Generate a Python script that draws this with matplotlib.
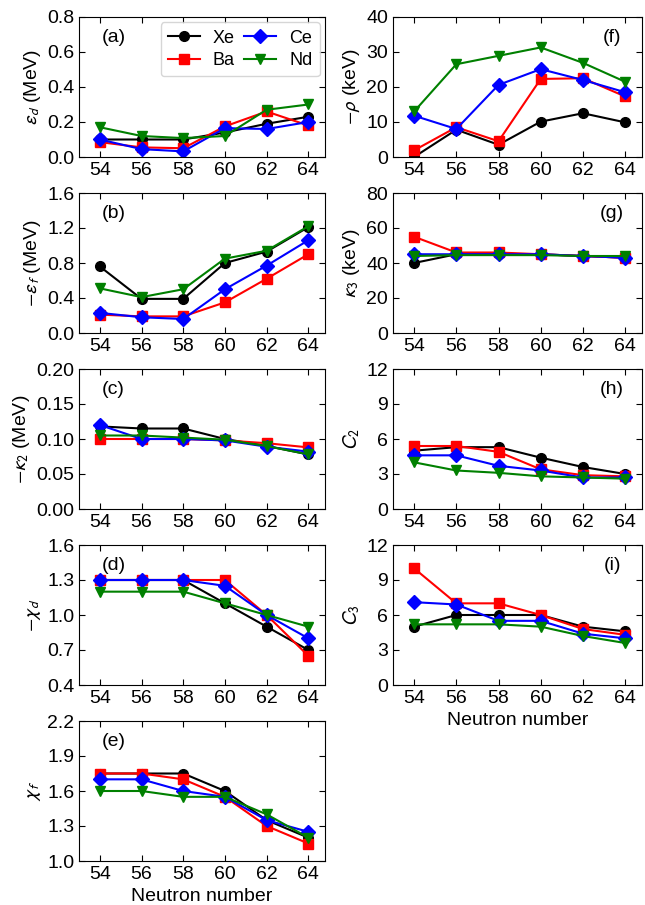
import matplotlib
matplotlib.use("Agg")
import matplotlib.pyplot as plt

plt.rcParams['font.family'] = ['Liberation Sans', 'DejaVu Sans']
plt.rcParams['mathtext.fontset'] = 'stixsans'
plt.rcParams['font.size'] = 14

# neutron numbers
N = [54, 56, 58, 60, 62, 64]
nuclei = ['Xe', 'Ba', 'Ce', 'Nd']

# (a) eps_d (MeV)
eps_d = {'Xe': [0.10, 0.10, 0.10, 0.14, 0.19, 0.23],
         'Ba': [0.085, 0.055, 0.05, 0.175, 0.26, 0.18],
         'Ce': [0.10, 0.045, 0.032, 0.165, 0.16, 0.20],
         'Nd': [0.17, 0.12, 0.108, 0.12, 0.27, 0.30]}
# (b) -eps_f (MeV)
eps_f = {'Xe': [0.76, 0.39, 0.39, 0.80, 0.93, 1.21],
         'Ba': [0.21, 0.19, 0.19, 0.35, 0.62, 0.90],
         'Ce': [0.23, 0.18, 0.16, 0.50, 0.77, 1.06],
         'Nd': [0.51, 0.41, 0.50, 0.85, 0.94, 1.22]}
# (c) -kappa_2 (MeV)
kappa2 = {'Xe': [0.118, 0.115, 0.115, 0.100, 0.090, 0.078],
          'Ba': [0.100, 0.100, 0.100, 0.098, 0.094, 0.088],
          'Ce': [0.120, 0.100, 0.100, 0.098, 0.089, 0.082],
          'Nd': [0.105, 0.105, 0.102, 0.099, 0.090, 0.078]}
# (d) -chi_d
chi_d = {'Xe': [1.3, 1.3, 1.3, 1.1, 0.9, 0.7],
         'Ba': [1.3, 1.3, 1.3, 1.3, 1.0, 0.65],
         'Ce': [1.3, 1.3, 1.3, 1.25, 1.0, 0.8],
         'Nd': [1.2, 1.2, 1.2, 1.1, 1.0, 0.9]}
# (e) chi_f
chi_f = {'Xe': [1.75, 1.75, 1.75, 1.60, 1.35, 1.20],
         'Ba': [1.75, 1.75, 1.70, 1.55, 1.30, 1.15],
         'Ce': [1.70, 1.70, 1.60, 1.55, 1.35, 1.25],
         'Nd': [1.60, 1.60, 1.55, 1.55, 1.40, 1.20]}
# (f) -rho (keV)
rho = {'Xe': [0.0, 7.8, 3.5, 10.1, 12.5, 9.9],
       'Ba': [1.9, 8.5, 4.5, 22.3, 22.5, 17.3],
       'Ce': [11.8, 8.0, 20.6, 25.1, 22.0, 18.5],
       'Nd': [13.0, 26.5, 28.9, 31.3, 26.9, 21.5]}
# (g) kappa_3 (keV)
kappa3 = {'Xe': [40, 45, 45, 45, 44, 43],
          'Ba': [55, 46, 46, 45, 44, 43],
          'Ce': [45, 45, 45, 45, 44, 43],
          'Nd': [44, 44.5, 44.5, 44.5, 44, 44]}
# (h) C2
c2 = {'Xe': [5.0, 5.3, 5.3, 4.4, 3.6, 3.0],
      'Ba': [5.4, 5.4, 4.9, 3.4, 2.9, 2.8],
      'Ce': [4.6, 4.6, 3.7, 3.3, 2.7, 2.7],
      'Nd': [4.0, 3.3, 3.1, 2.8, 2.7, 2.6]}
# (i) C3
c3 = {'Xe': [5.0, 6.0, 6.0, 6.0, 5.0, 4.6],
      'Ba': [10.0, 7.0, 7.0, 6.0, 4.8, 4.3],
      'Ce': [7.1, 6.9, 5.5, 5.5, 4.4, 4.0],
      'Nd': [5.2, 5.2, 5.2, 5.0, 4.2, 3.6]}

styles = {'Xe': ('black', 'o'), 'Ba': ('red', 's'),
          'Ce': ('blue', 'D'), 'Nd': ('green', 'v')}

left_panels = [
    (eps_d, r'$\varepsilon_d$ (MeV)', [0.0, 0.2, 0.4, 0.6, 0.8], '(a)'),
    (eps_f, r'$-\varepsilon_f$ (MeV)', [0.0, 0.4, 0.8, 1.2, 1.6], '(b)'),
    (kappa2, r'$-\kappa_2$ (MeV)', [0.00, 0.05, 0.10, 0.15, 0.20], '(c)'),
    (chi_d, r'$-\chi_d$', [0.4, 0.7, 1.0, 1.3, 1.6], '(d)'),
    (chi_f, r'$\chi_f$', [1.0, 1.3, 1.6, 1.9, 2.2], '(e)'),
]
right_panels = [
    (rho, r'$-\rho$ (keV)', [0, 10, 20, 30, 40], '(f)'),
    (kappa3, r'$\kappa_3$ (keV)', [0, 20, 40, 60, 80], '(g)'),
    (c2, r'$C_2$', [0, 3, 6, 9, 12], '(h)'),
    (c3, r'$C_3$', [0, 3, 6, 9, 12], '(i)'),
]
fmts = {'(a)': '%.1f', '(b)': '%.1f', '(c)': '%.2f', '(d)': '%.1f', '(e)': '%.1f'}

fig = plt.figure(figsize=(6.45, 9.05), dpi=100)

W, H = 645, 905
ax_h = 140 / H
step = 176 / H
top0 = 1 - 17 / H


def draw(ax, data, ylabel, yticks, tag, right_col):
    for nuc in nuclei:
        col, mk = styles[nuc]
        ax.plot(N, data[nuc], color=col, marker=mk, ms=7, lw=1.5, label=nuc)
    ax.set_xlim(53, 64.8)
    ax.set_xticks(N)
    ax.set_ylim(yticks[0], yticks[-1])
    ax.set_yticks(yticks)
    if not right_col:
        ax.set_yticklabels([fmts[tag] % v for v in yticks])
    ax.set_ylabel(ylabel, labelpad=3)
    ax.tick_params(direction='in', top=True, right=True, length=4)
    if right_col:
        ax.text(0.88, 0.85, tag, transform=ax.transAxes, ha='center', va='center')
    else:
        ax.text(0.14, 0.85, tag, transform=ax.transAxes, ha='center', va='center')


for i, (data, ylab, yt, tag) in enumerate(left_panels):
    ax = fig.add_axes([79 / W, top0 - ax_h - i * step, 246 / W, ax_h])
    draw(ax, data, ylab, yt, tag, False)
    if i == 0:
        ax.legend(ncol=2, loc='upper right', fontsize=13, handlelength=1.8,
                  columnspacing=0.5, handletextpad=0.7, borderaxespad=0.3,
                  labelspacing=0.3, borderpad=0.4)
    if i == len(left_panels) - 1:
        ax.set_xlabel('Neutron number')

for i, (data, ylab, yt, tag) in enumerate(right_panels):
    ax = fig.add_axes([393 / W, top0 - ax_h - i * step, 249 / W, ax_h])
    draw(ax, data, ylab, yt, tag, True)
    if i == len(right_panels) - 1:
        ax.set_xlabel('Neutron number')

fig.savefig('out.png', dpi=100)
